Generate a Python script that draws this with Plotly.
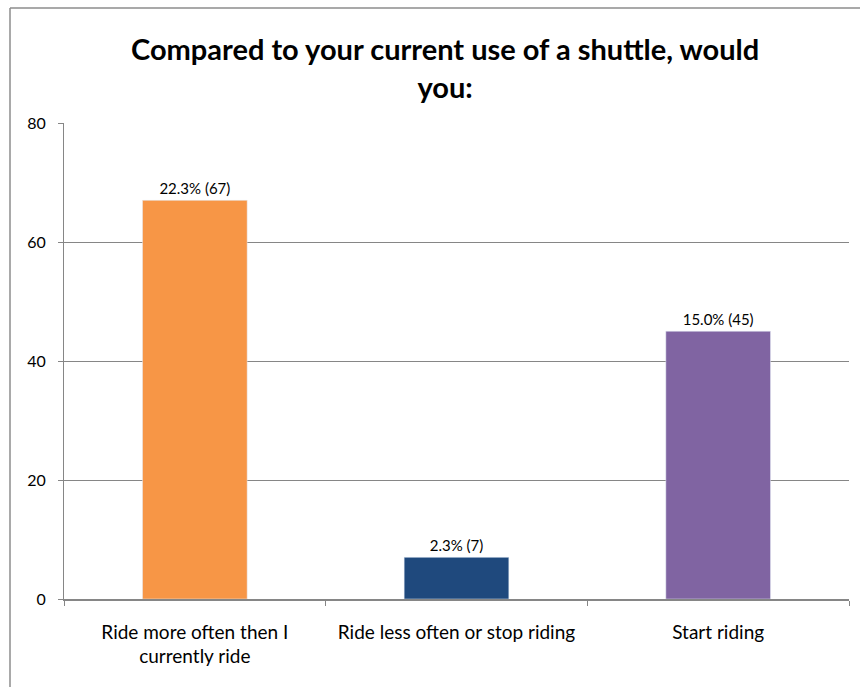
import plotly.graph_objects as go

categories = ["Ride more often then I<br>currently ride", "Ride less often or stop riding", "Start riding"]
counts = [67, 7, 45]
percents = [22.3, 2.3, 15.0]
colors = ["#F79646", "#1F497D", "#8064A2"]
title_text = "<b>Compared to your current use of a shuttle, would<br>you:</b>"

labels = [f"{p:.1f}% ({c})" for p, c in zip(percents, counts)]

W, H = 860, 687
ml, mr, mt, mb = 64, 11, 123, 88
pw, ph = W - ml - mr, H - mt - mb

fig = go.Figure(go.Bar(
    x=categories, y=counts, marker_color=colors, width=0.4,
    text=labels, textposition="outside", cliponaxis=False,
    textfont=dict(size=15, color="black"),
))

# frame around the chart (left and top edges)
bx = (10 - ml) / pw
by = 1 + (mt - 8) / ph
fig.add_shape(type="line", xref="paper", yref="paper", x0=bx, x1=(W - ml) / pw + 0.01,
              y0=by, y1=by, line=dict(color="#8C8C8C", width=1.5))
fig.add_shape(type="line", xref="paper", yref="paper", x0=bx, x1=bx,
              y0=by, y1=-(mb + 5) / ph, line=dict(color="#8C8C8C", width=1.5))

# chart title
fig.add_annotation(text=title_text, xref="paper", yref="paper",
                   x=(445 - ml) / pw, y=1 + (mt - 68) / ph,
                   xanchor="center", yanchor="middle", showarrow=False,
                   font=dict(size=29, color="black"))

fig.update_layout(
    width=W, height=H, margin=dict(l=ml, r=mr, t=mt, b=mb),
    paper_bgcolor="white", plot_bgcolor="white",
    font=dict(family="Lato, sans-serif", color="black"),
    showlegend=False, bargap=0.6,
    yaxis=dict(range=[0, 80], dtick=20, showgrid=True, gridcolor="#868686", gridwidth=1,
               showline=True, linecolor="#868686", ticks="outside", ticklen=5,
               tickcolor="#868686", tickfont=dict(size=16), zeroline=False,
               ticklabelstandoff=9),
    xaxis=dict(showline=True, linecolor="#868686", linewidth=1.5, ticks="outside", ticklen=5,
               tickcolor="#868686", tickson="boundaries", tickfont=dict(size=19),
               ticklabelstandoff=15),
)

fig.write_html("out.html")
